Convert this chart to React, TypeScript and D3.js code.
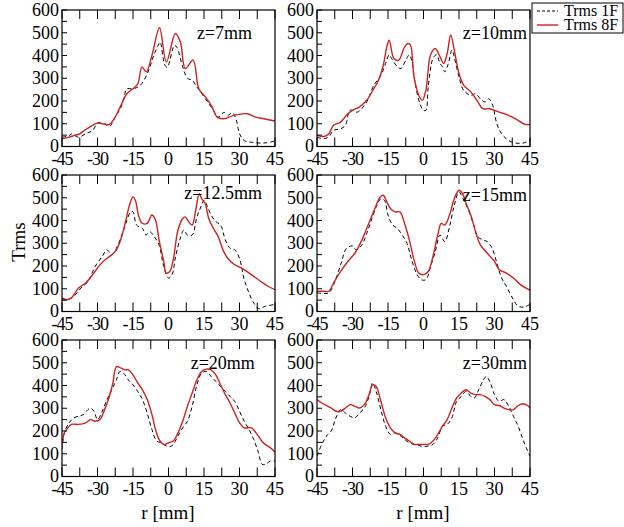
import React from "react";
import * as d3 from "d3";

type Pt = [number, number];

// ---- data: r [mm] vs Trms ----
const z7_1F: Pt[] = [[-45,41],[-42,48],[-41,55],[-38,41],[-35,56],[-32,71],[-30,103],[-27,100],[-25,88],[-22.5,130],[-20,174],[-18,247],[-17.5,254],[-15,254],[-12,268],[-9,319],[-6,407],[-4,451],[-3.5,459],[-1.5,357],[-0.5,349],[2.5,444],[3.5,437],[6,350],[8,300],[10,291],[12,262],[15.6,210],[19,159],[21,129],[23.5,150],[25,137],[27,148],[28.5,122],[30,56],[32,26],[35,19],[40,15],[45,24]];
const z7_8F: Pt[] = [[-45,34],[-42,41],[-40,48],[-37.5,56],[-34.5,78],[-30,103],[-28,100],[-25,97],[-22.5,130],[-20.4,174],[-17.6,232],[-15,254],[-13,275],[-11.2,350],[-9.4,328],[-7,400],[-3.8,522],[-0.9,372],[2.9,497],[5,460],[7.1,343],[10.4,380],[12.8,254],[15.6,218],[18.4,174],[20.5,129],[23.4,122],[27.6,137],[33.2,144],[36.8,129],[40.3,122],[45,112]];

const z10_1F: Pt[] = [[-45,41],[-42,34],[-40,44],[-38,71],[-35,78],[-33,93],[-31,160],[-28,151],[-24,196],[-21,269],[-18,313],[-16,365],[-14.5,403],[-13.5,387],[-11,350],[-9.5,343],[-7.5,379],[-6,403],[-5,379],[-3.5,276],[-1.5,188],[0,159],[1,159],[2,262],[4,387],[5.5,403],[7,365],[8,350],[9,328],[10.5,365],[12,424],[13,394],[15,306],[17,247],[20,225],[22,232],[24,210],[26,196],[27.5,210],[29,188],[31,100],[33,56],[36,26],[39,15],[42,15],[45,26]];
const z10_8F: Pt[] = [[-45,49],[-42,44],[-40,56],[-38,93],[-35,107],[-32,144],[-30,159],[-27,174],[-24,203],[-21,254],[-19,291],[-17,357],[-15.5,438],[-14.5,467],[-12.5,387],[-10.5,379],[-8,438],[-6.5,453],[-5.5,446],[-4,306],[-2,225],[-0.5,203],[1,247],[3,403],[5,431],[7,394],[8.5,365],[10,409],[11.5,490],[13,424],[15,321],[17,269],[20,240],[23,196],[25,166],[28,166],[32,151],[36,137],[40,115],[43,97],[45,97]];

const z125_1F: Pt[] = [[-45,52],[-43,52],[-40,67],[-37,103],[-34,132],[-31,198],[-28,242],[-26,271],[-24,249],[-22,278],[-20,329],[-18,387],[-16,438],[-15,438],[-13.5,380],[-11,365],[-9.5,336],[-8,351],[-6,329],[-4,293],[-2,198],[0,147],[1.5,162],[3,242],[5,322],[6.5,358],[8,336],[10,336],[12,416],[14,467],[15,489],[16.5,460],[18,424],[20,395],[22,380],[24,315],[26,278],[28,271],[30,234],[32,140],[34,82],[36,38],[38,13],[41,23],[45,31]];
const z125_8F: Pt[] = [[-45,60],[-43,52],[-41,60],[-38,103],[-35,125],[-32,162],[-29,205],[-26,234],[-24,249],[-22,271],[-20,322],[-18,402],[-16.5,467],[-15,504],[-14,489],[-12.5,416],[-11,387],[-9,387],[-7,424],[-5.5,402],[-4,315],[-2,220],[-1,169],[0.5,176],[2,227],[4,358],[6,409],[7,416],[8.5,395],[10,380],[11.5,446],[13,518],[14,496],[15.5,475],[17,409],[19,365],[21,329],[23,271],[25,234],[28,205],[31,191],[35,162],[39,132],[42,111],[45,96]];

const z15_1F: Pt[] = [[-45,82],[-42,79],[-40,82],[-38,118],[-35,205],[-32.5,278],[-30,288],[-28.5,271],[-26,293],[-24,343],[-22,402],[-20,460],[-18,496],[-16.5,489],[-15,424],[-13,380],[-11,365],[-9,336],[-7,300],[-5,227],[-3,169],[-1,140],[1,140],[3,198],[5,264],[7,336],[9,307],[11,373],[13,467],[15,525],[17,489],[19,446],[21,387],[23,329],[25,315],[27,307],[29,278],[31,213],[33,147],[35,111],[38,52],[40,23],[42.5,20],[45,31]];
const z15_8F: Pt[] = [[-45,89],[-42,89],[-40,89],[-38,125],[-35,176],[-32,220],[-29,256],[-26,315],[-24,365],[-22,416],[-20,467],[-18.5,501],[-17,511],[-15.5,482],[-14,453],[-12,438],[-10,438],[-8,387],[-6,315],[-4,227],[-2,169],[0,162],[2,176],[4,242],[6,336],[7.5,387],[9,380],[11,424],[13,496],[15,533],[16.5,518],[18,475],[20,424],[22,351],[24,293],[27,256],[30,220],[32,184],[35,169],[38,147],[41,118],[45,93]];

const z20_1F: Pt[] = [[-45,119],[-44,192],[-42,236],[-40,258],[-38,265],[-36,272],[-34,294],[-33,301],[-31.5,287],[-30,250],[-28,287],[-26,338],[-24,381],[-22,425],[-20.5,462],[-19,454],[-17,425],[-15,403],[-13,374],[-11,338],[-9,279],[-7,207],[-5,156],[-3,148],[-1,134],[0.5,131],[2,141],[4,178],[6,214],[8,243],[10,309],[12,403],[14,454],[16,462],[18,440],[20,418],[22,396],[24,374],[26,352],[28,330],[30,287],[32,243],[34,207],[36,163],[38,105],[39.5,54],[41,54],[43,68],[45,68]];
const z20_8F: Pt[] = [[-45,141],[-44,192],[-42.5,214],[-41,229],[-38,229],[-35,236],[-33,250],[-31,243],[-29,250],[-27,294],[-25,352],[-23.5,411],[-22,483],[-20,476],[-18.5,469],[-17,469],[-15,447],[-13,411],[-11,381],[-9,338],[-7,272],[-5.5,207],[-4,163],[-2,141],[0,148],[2,156],[4,192],[6,243],[8,309],[10,367],[12,425],[14,462],[16,472],[18,469],[20,447],[22,403],[24,360],[26,323],[28,279],[30,236],[32,214],[35,214],[37,192],[40,148],[43,127],[45,108]];

const z30_1F: Pt[] = [[-45,90],[-43,141],[-41,178],[-39,200],[-37,258],[-35,294],[-33,279],[-31,265],[-29,258],[-27,279],[-25,301],[-23,352],[-21.5,411],[-20,374],[-18,294],[-16,221],[-14,185],[-12,192],[-10,181],[-8,163],[-6,148],[-4,141],[-2,137],[0,131],[2,134],[4,141],[6,170],[8,221],[10,229],[12,258],[14,330],[16,352],[18,374],[20,352],[21.5,345],[23,374],[25,418],[26.5,440],[28,418],[30,360],[32,330],[34,338],[36,309],[38,265],[40,221],[42,163],[44,112],[45,90]];
const z30_8F: Pt[] = [[-45,338],[-43,323],[-41,312],[-39,301],[-37,287],[-35,287],[-33,301],[-31,316],[-29,309],[-27,301],[-25,316],[-23,360],[-21.5,403],[-20,396],[-18,330],[-16,258],[-14,214],[-12,192],[-10,185],[-8,170],[-6,156],[-4,141],[-2,141],[0,141],[2,141],[4,156],[6,185],[8,221],[10,250],[12,301],[14,345],[16,367],[18,381],[20,367],[22,360],[24,360],[26,352],[28,338],[30,316],[32,312],[34,301],[36,294],[38,294],[40,312],[42,320],[44,312],[45,301]];

const panelLabels = ["z=7mm", "z=10mm", "z=12.5mm", "z=15mm", "z=20mm", "z=30mm"];
const labelR = [35.3, 43.7, 39.5, 43.7, 36.5, 43.7];
const labelT = [500, 500, 520, 510, 500, 500];
const series1F = [z7_1F, z10_1F, z125_1F, z15_1F, z20_1F, z30_1F];
const series8F = [z7_8F, z10_8F, z125_8F, z15_8F, z20_8F, z30_8F];
const xTickLabels = [-45, -30, -15, 0, 15, 30, 45];
const yTickLabels = [0, 100, 200, 300, 400, 500, 600];
const legendNames = ["Trms 1F", "Trms 8F"];

const colX = [62, 317];
const rowY = [10, 175, 340];
const PW = 213;
const PH = 136.5;
const FONT = "'Liberation Serif', 'DejaVu Serif', serif";
const FS = 18;
const RED = "#cc2222";

function Panel({ i }: { i: number }) {
  const c = i % 2;
  const r = Math.floor(i / 2);
  const x0 = colX[c];
  const y0 = rowY[r];
  const x = d3.scaleLinear().domain([-45, 45]).range([x0, x0 + PW]);
  const y = d3.scaleLinear().domain([0, 600]).range([y0 + PH, y0]);
  const line = d3
    .line<Pt>()
    .x((d) => x(d[0]))
    .y((d) => y(d[1]))
    .curve(d3.curveCatmullRom.alpha(0.5));
  const xt = d3.range(-45, 45.01, 7.5);
  const yt = d3.range(0, 600.01, 50);
  const clipId = `clip${i}`;
  return (
    <g>
      <clipPath id={clipId}>
        <rect x={x0} y={y0} width={PW} height={PH} />
      </clipPath>
      <g clipPath={`url(#${clipId})`}>
        <path d={line(series1F[i]) || ""} fill="none" stroke="#000" strokeWidth={1} strokeDasharray="4,3" />
        <path d={line(series8F[i]) || ""} fill="none" stroke={RED} strokeWidth={1.4} />
      </g>
      {xt.map((t) => (
        <g key={"xt" + t}>
          <line x1={x(t)} x2={x(t)} y1={y0 + PH} y2={y0 + PH - 9} stroke="#000" strokeWidth={1} />
          <line x1={x(t)} x2={x(t)} y1={y0} y2={y0 + 9} stroke="#000" strokeWidth={1} />
        </g>
      ))}
      {yt.map((t) => (
        <line key={"yt" + t} x1={x0} x2={x0 + 5} y1={y(t)} y2={y(t)} stroke="#000" strokeWidth={1} />
      ))}
      <rect x={x0} y={y0} width={PW} height={PH} fill="none" stroke="#000" strokeWidth={1.2} />
      {xTickLabels.map((t) => (
        <text key={"xl" + t} x={x(t)} y={y0 + PH + 18} textAnchor="middle" fontSize={FS} fontFamily={FONT} letterSpacing={t < 0 ? -1 : 0}>
          {t}
        </text>
      ))}
      {yTickLabels.map((t) => (
        <text key={"yl" + t} x={x0 - 3} y={y(t) + (t === 0 ? 5 : 6)} textAnchor="end" fontSize={FS} fontFamily={FONT}>
          {t}
        </text>
      ))}
      <text x={x(labelR[i])} y={y(labelT[i]) + 6} textAnchor="end" fontSize={FS} fontFamily={FONT}>
        {panelLabels[i]}
      </text>
    </g>
  );
}

export default function App() {
  return (
    <svg width={624} height={527} style={{ position: "absolute", left: 0, top: 0, background: "#fff" }}>
      <rect x={0} y={0} width={624} height={527} fill="#fff" />
      {[0, 1, 2, 3, 4, 5].map((i) => (
        <Panel key={i} i={i} />
      ))}
      <text transform="translate(25,242) rotate(-90)" textAnchor="middle" fontSize={19} fontFamily={FONT}>
        Trms
      </text>
      <text x={168} y={519} textAnchor="middle" fontSize={19} fontFamily={FONT}>r [mm]</text>
      <text x={423} y={519} textAnchor="middle" fontSize={19} fontFamily={FONT}>r [mm]</text>
      <g>
        <rect x={532} y={3} width={91} height={30} fill="#fff" stroke="#000" strokeWidth={1} />
        <line x1={537} x2={558} y1={11} y2={11} stroke="#000" strokeWidth={1} strokeDasharray="3,2" />
        <line x1={537} x2={558} y1={25} y2={25} stroke={RED} strokeWidth={1.4} />
        <text x={564} y={16} fontSize={16} fontFamily={FONT}>{legendNames[0]}</text>
        <text x={564} y={30} fontSize={16} fontFamily={FONT}>{legendNames[1]}</text>
      </g>
    </svg>
  );
}
